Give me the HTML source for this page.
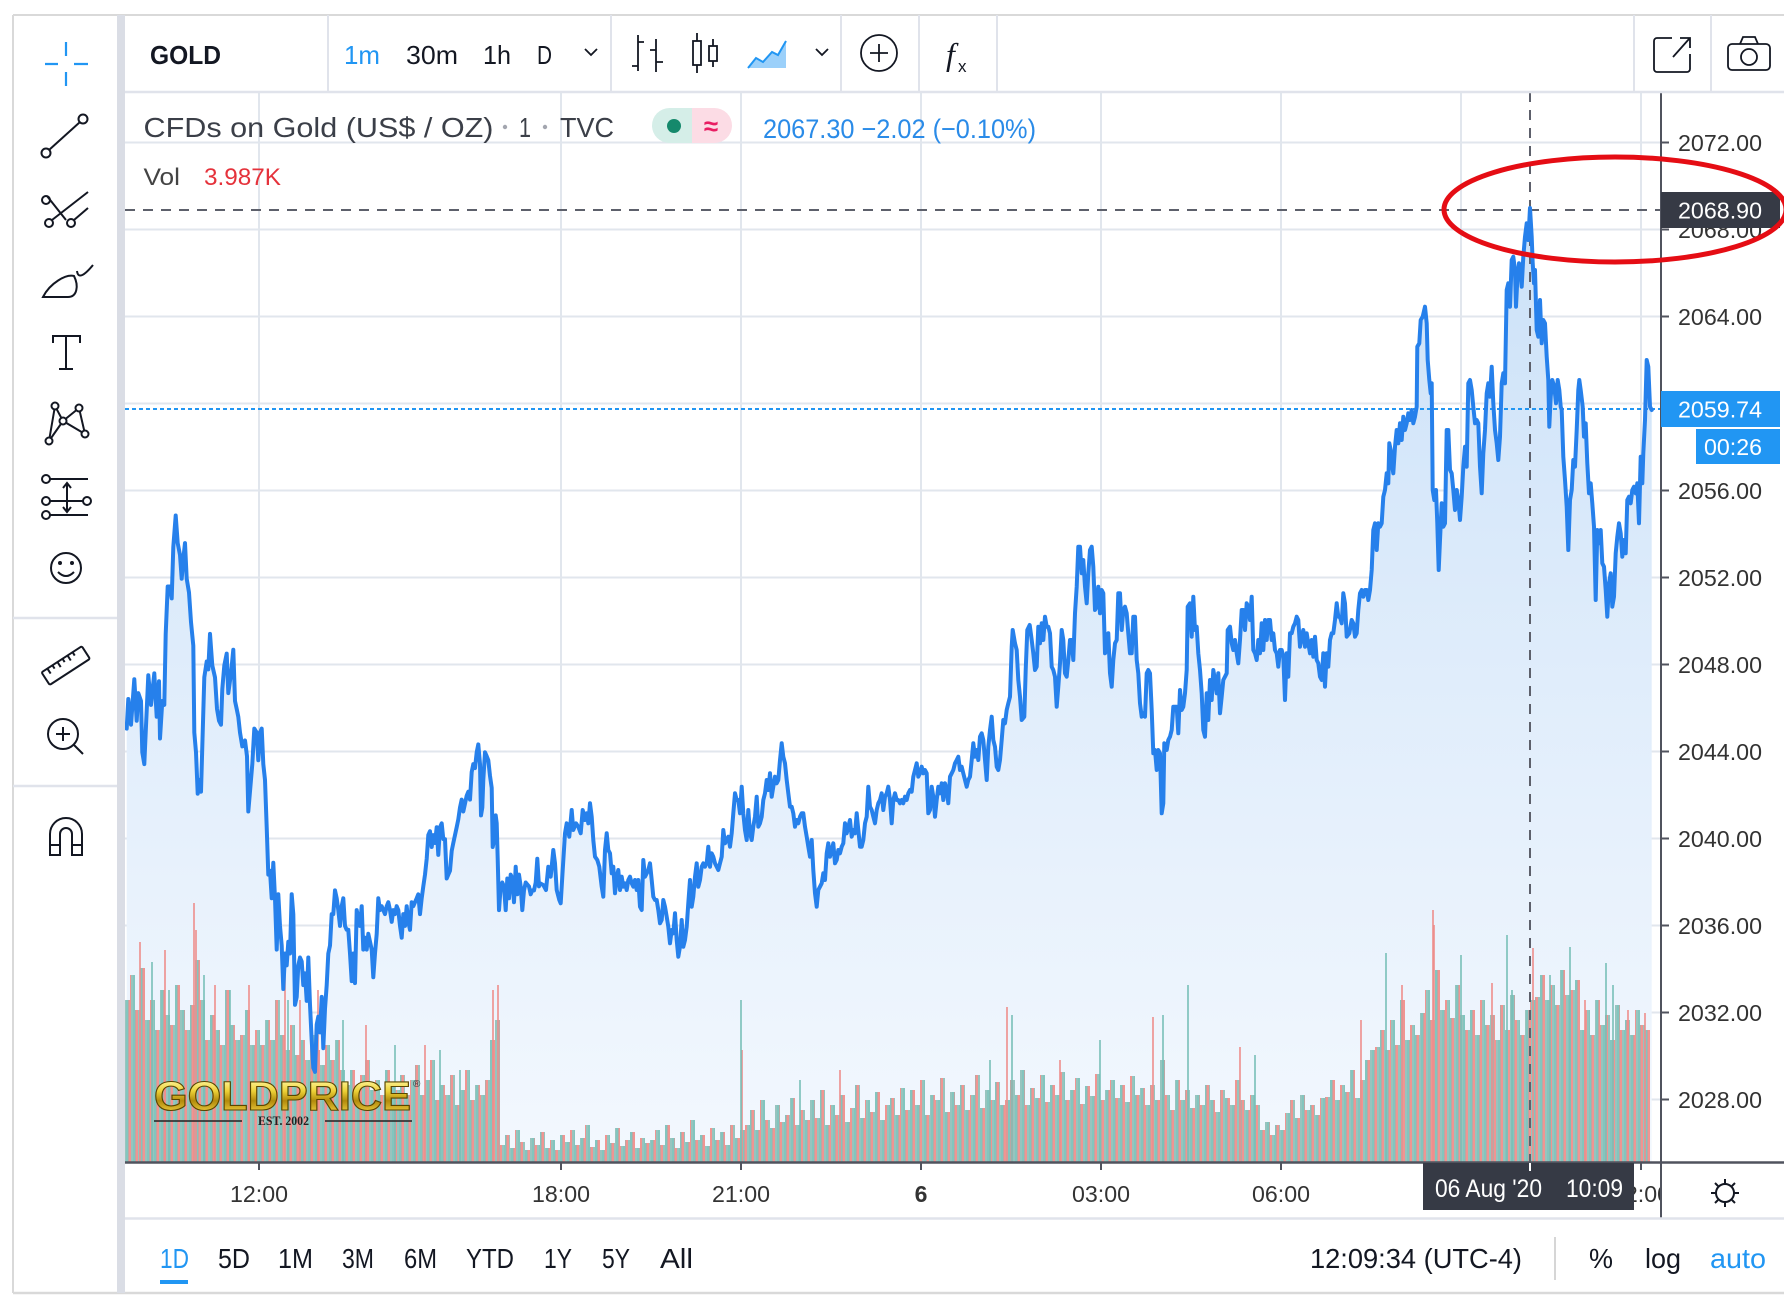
<!DOCTYPE html>
<html><head><meta charset="utf-8"><style>
html,body{margin:0;padding:0;background:#fff;}
svg{display:block;}
text{font-family:"Liberation Sans",Arial,sans-serif;}
</style></head><body>
<svg width="1784" height="1310" viewBox="0 0 1784 1310" xmlns="http://www.w3.org/2000/svg">
<defs>
<linearGradient id="ag" x1="0" y1="200" x2="0" y2="1162" gradientUnits="userSpaceOnUse">
<stop offset="0" stop-color="#cbe1f8"/><stop offset="0.5" stop-color="#e0edfb"/><stop offset="1" stop-color="#f3f8fe"/>
</linearGradient>
<linearGradient id="gold" x1="0" y1="1080" x2="0" y2="1112" gradientUnits="userSpaceOnUse">
<stop offset="0" stop-color="#fff59a"/><stop offset="0.35" stop-color="#ecd036"/><stop offset="0.65" stop-color="#b28a0c"/><stop offset="1" stop-color="#e9c93a"/>
</linearGradient>
<pattern id="vp" width="7" height="10" patternUnits="userSpaceOnUse">
<rect x="0" y="0" width="2" height="10" fill="#7ec3bb"/>
<rect x="2" y="0" width="1" height="10" fill="#b9a3a0"/>
<rect x="3" y="0" width="2" height="10" fill="#f0908d"/>
<rect x="5" y="0" width="2" height="10" fill="#93c2bb"/>
</pattern>
<clipPath id="cc"><rect x="125" y="92" width="1536" height="1070"/></clipPath>
<clipPath id="tc"><rect x="125" y="1164" width="1535" height="54"/></clipPath>
</defs>

<rect x="0" y="0" width="1784" height="1310" fill="#fff"/>

<!-- grid -->
<g stroke="#e1e6ed" stroke-width="2" clip-path="url(#cc)">
<path d="M125,142.5H1661M125,229.5H1661M125,316.5H1661M125,403.5H1661M125,490.5H1661M125,577.5H1661M125,664.5H1661M125,751.5H1661M125,838.5H1661M125,925.5H1661M125,1012.5H1661M125,1099.5H1661"/>
<path d="M259,92V1162M561,92V1162M741,92V1162M921,92V1162M1101,92V1162M1281,92V1162M1461,92V1162M1641,92V1162"/>
</g>

<g clip-path="url(#cc)">
<!-- area fill -->
<path fill="url(#ag)" d="M126.7,728.6 128.3,699 131,724.7 134.3,679.3 136.7,720.7 138.3,693.1 141,701 142.3,752.3 144.3,764.1 145.7,732.5 148.3,675.3 151,704.9 154.3,673.4 156.7,716.8 159,681.2 160,738.5 162.3,701 164.3,704.9 165.7,633.9 167.7,586.5 170,586.5 171.7,598.4 173.3,547.1 175.7,515.5 177.7,543.1 180,555 181.7,578.7 183.3,558.9 185,543.1 186.7,578.7 189,592.5 191,622.1 193.3,645.7 194.3,732.5 196,752.3 197.7,793.7 199,779.9 201,791.7 202.7,732.5 204.3,677.3 206.7,661.5 208.3,669.4 210,633.9 212.3,665.5 215,677.3 217,708.9 219,720.7 221,724.7 222.3,689.1 224.3,665.5 226.7,653.6 228.3,693.1 231,673.4 233.3,649.7 235,701 236.7,708.9 238.3,716.8 240,732.5 242.3,746.4 245,740.4 247,756.2 248.3,811.5 250.3,787.8 252.3,764.1 254.3,728.6 256.7,732.5 258.3,760.2 260,732.5 261.7,728.6 263.3,764.1 265,779.9 266.7,827.2 268.3,874.6 270,870.7 271.7,898.3 273.3,862.8 275,898.3 276.7,949.6 278.3,894.3 280,925.9 281.7,945.6 283.3,989 285,953.5 286.7,965.4 288.3,941.7 290,953.5 291.7,894.3 293.3,914.1 295,1004.8 296.7,996.9 298.3,965.4 300,957.5 301.7,961.4 303.3,985.1 305,973.3 306.7,1000.9 308.3,957.5 310,1004.8 311.7,1040.3 313.3,1067.9 315,1071.9 316.7,1024.5 318.3,1016.7 320,1032.4 321.7,996.9 323.3,1048.2 325,1008.8 326.7,985.1 328.3,953.5 330,945.6 331.7,914.1 333.3,914.1 335,890.4 336.7,898.3 338.3,910.1 340,925.9 341.7,906.2 343.3,898.3 345,925.9 346.7,929.8 348.3,929.8 350,953.5 351.7,981.1 353.3,953.5 355,983.1 356.7,910.1 358.3,918 360,925.9 361.7,906.2 363.3,949.6 365,937.7 366.7,949.6 368.3,933.8 370,941.7 371.7,949.6 373.3,977.2 375,953.5 376.7,933.8 378.3,898.3 380,910.1 381.7,906.2 383.3,910.1 385,914.1 386.7,906.2 388.3,902.2 390,910.1 391.7,921.9 393.3,910.1 395,914.1 396.7,906.2 398.3,910.1 400,925.9 401.7,937.7 403.3,914.1 405,925.9 406.7,906.2 408.3,921.9 410,929.8 411.7,902.2 413.3,906.2 415,902.2 416.7,898.3 418.3,894.3 420,914.1 421.7,898.3 423.3,886.4 425,874.6 426.7,858.8 428.3,835.1 430,831.2 431.7,847 433.3,835.1 435,843 436.7,827.2 438.3,854.9 440,827.2 441.7,823.3 443.3,839.1 445,839.1 446.7,878.5 448.3,874.6 450,870.7 451.7,850.9 453.3,843 455,835.1 456.7,827.2 458.3,819.4 460,807.5 461.7,799.6 463.3,811.5 465,803.6 466.7,795.7 468.3,791.7 470,799.6 471.7,772 473.3,764.1 475,768.1 476.7,752.3 478.3,744.4 480,764.1 481,815.4 482.3,807.5 483.3,779.9 485,752.3 486.7,756.2 488.3,760.2 490,775.9 491.7,787.8 492.7,847 494.3,839.1 495.7,815.4 496.7,823.3 497.7,858.8 499,910.1 500.7,886.4 502.3,882.5 504,886.4 505.7,910.1 507.3,878.5 509,898.3 510.7,874.6 512.3,878.5 514,902.2 515.7,866.7 517.3,894.3 519,874.6 520.7,886.4 522.3,910.1 524,890.4 525.7,882.5 527.3,884.5 529,886.4 530.7,894.3 532.3,890.4 534,890.4 535.7,882.5 537.3,858.8 539,886.4 540,883.3 543.3,885 546,890 548.3,866.7 550.7,876.7 553.3,850 555,863.3 556.7,890 559.3,900 560.7,903.3 562.7,870 565,833.3 566.7,823.3 569.3,836.7 571.7,810 573.3,830 576,823.3 578.3,826.7 580.7,833.3 582.7,810 585,820 586.7,813.3 588.3,823.3 590,803.3 591.7,816.7 593.3,840 595,856.7 597.3,860 599.3,866.7 601.7,886.7 603.3,896.7 605,850 606.7,833.3 608.3,850 610,853.3 611.7,873.3 613.3,866.7 615,893.3 616.7,876.7 618.3,870 620,890 621.7,876.7 623.3,886.7 625,883.3 626.7,890 628.3,880 630,876.7 631.7,883.3 633.3,886.7 635,880 636.7,890 638.3,880 640,906.7 641.7,910 643.3,860 645,876.7 646.7,873.3 648.3,870 650,863.3 651.7,880 653.3,896.7 655,900 656.7,900 658.3,910 660,923.3 661.7,920 663.3,900 665,906.7 666.7,916.7 668.3,926.7 670,943.3 671.7,930 673.3,933.3 675,913.3 676.7,940 678.3,956.7 680,946.7 681.7,920 683.3,946.7 685,940 686.7,926.7 688.3,903.3 690,880 691.7,906.7 693.3,896.7 695,876.7 696.7,863.3 698.3,886.7 700,880 701.7,866.7 703.3,863.3 705,866.7 706.7,863.3 708.3,846.7 710,866.7 711.7,853.3 713.3,856.7 715,863.3 716.7,866.7 718.3,870 720,863.3 721.7,856.7 723.3,830 725,843.3 726.7,840 728.3,836.7 730,846.7 731.7,833.3 733.3,813.3 735,793.3 736.7,800 738.3,800 740,813.3 741.7,786.7 743.3,813.3 745,830 746.7,840 748.3,810 750,833.3 751.7,840 753.3,826.7 755,816.7 756.7,796.7 758.3,826.7 760,823.3 761.7,816.7 763.3,800 765,793.3 766.7,780 768.3,790 770,773.3 771.7,796.7 773.3,786.7 775,776.7 776.7,783.3 778.3,780 780,760 781.7,743.3 783.3,756.7 785,763.3 786.7,780 788.3,793.3 790,806.7 791.7,806.7 793.3,813.3 795,826.7 796.7,820 798.3,823.3 800,816.7 801.7,813.3 803.3,813.3 805,826.7 806.7,836.7 808.3,846.7 810,856.7 811.7,840 813.3,870 815,893.3 816.7,906.7 818.3,890 820,886.7 821.7,883.3 823.3,873.3 825,880 826.7,853.3 828.3,843.3 830,856.7 831.7,850 833.3,843.3 835,863.3 836.7,860 838.3,850 840,853.3 841.7,846.7 843.3,843.3 845,823.3 846.7,833.3 848.3,826.7 850,820 851.7,836.7 853.3,830 855,833.3 856.7,813.3 858.3,830 860,846.7 861.7,846.7 863.3,840 865,823.3 866.7,816.7 868.3,786.7 870,806.7 871.7,810 873.3,816.7 875,823.3 876.7,810 878.3,803.3 880,800 881.7,793.3 883.3,810 885,796.7 886.7,793.3 888.3,786.7 890,800 891.7,823.3 893.3,800 895,793.3 896.7,800 898.3,800 900,803.3 901.7,800 903.3,803.3 905,796.7 906.7,800 908.3,793.3 910,790 911.7,791.7 913.3,776.7 915,770 916.7,763.3 918.3,776.7 920,773.3 921.7,766.7 923.3,773.3 925,770 926.7,773.3 928.3,813.3 930,810 931.7,786.7 933.3,796.7 935,816.7 936.7,800 938.3,786.7 940,793.3 941.7,783.3 943.3,800 945,783.3 946.7,790 948.3,803.3 950,776.7 951.7,773.3 953.3,770 955,763.3 956.7,760 958.3,756.7 960,770 961.7,766.7 963.3,773.3 965,780 966.7,786.7 968.3,780 970,776.7 971.7,760 973.3,743.3 975,756.7 976.7,750 978.3,760 980,736.7 981.7,733.3 983.3,740 985,760 986.7,780 988.3,746.7 990,730 991.7,716.7 993.3,740 995,746.7 996.7,766.7 998.3,770 1000,760 1001.7,740 1003.3,720 1005,723.3 1006.7,710 1008.3,703.3 1010,696.7 1011.7,646.7 1012.7,630 1015,643.3 1016.7,650 1018.3,680 1020,696.7 1021.7,720 1024.3,716.7 1025.7,670 1027.3,630 1029.7,625 1031.7,640 1033.3,653.3 1035,670 1036.7,666.7 1038.3,626.7 1040,643.3 1041.7,623.3 1043.3,640 1045,616.7 1046.7,626.7 1048.3,626.7 1050,633.3 1051.7,666.7 1053.3,670 1055,676.7 1056.7,706.7 1058.3,686.7 1060,663.3 1061.7,630 1063.3,640 1065,673.3 1066.7,676.7 1068.3,660 1070,640 1071.7,640 1073.3,660 1075,613.3 1076.7,586.7 1078.3,546.7 1080,546.7 1081.7,573.3 1083.3,560 1085,586.7 1086.7,603.3 1088.3,573.3 1090,550 1091.7,546.7 1093.3,566.7 1095,610 1096.7,606.7 1098.3,586.7 1100,613.3 1101.7,590 1103.3,593.3 1105,653.3 1106.7,650 1108.3,633.3 1110,673.3 1111.7,686.7 1113.3,660 1115,643.3 1116.7,640 1118.3,593.3 1120,593.3 1121.7,630 1123.3,610 1125,606.7 1126.7,613.3 1128.3,633.3 1130,653.3 1131.7,653.3 1133.3,616.7 1135,616.7 1136.7,660 1138.3,673.3 1140,703.3 1141.7,716.7 1143.3,713.3 1145,716.7 1146.7,673.3 1148.3,670 1150,673.3 1151.7,710 1153.3,753.3 1155,750 1156.7,770 1158.3,750 1160,753.3 1161.7,813.3 1163.3,803.3 1164.3,743.3 1166.7,750 1168.3,740 1170,736.7 1171.7,730 1173.3,706.7 1175,706.7 1176.7,706.7 1178.3,733.3 1180,690 1181.7,710 1183.3,706.7 1185,693.3 1186.7,670 1187.7,606.7 1190,603.3 1191.7,636.7 1193.3,596.7 1195,630 1196.7,626.7 1198.3,653.3 1200,670 1201.7,693.3 1203.3,730 1205,736.7 1206.7,693.3 1208.3,720 1210,680 1211.7,700 1213.3,670 1215,680 1216.7,693.3 1218.3,673.3 1220,713.3 1221.7,696.7 1223.3,680 1225,676.7 1226.7,673.3 1227.7,630 1230,626.7 1231.7,643.3 1233.3,650 1235,640 1236.7,653.3 1238.3,663.3 1240,640 1241.7,610 1243.3,610 1245,630 1246.7,603.3 1248.3,606.7 1250,620 1251.7,596.7 1253.3,650 1255,653.3 1256.7,660 1258.3,640 1260,653.3 1261.7,623.3 1263.3,650 1265,620 1266.7,640 1268.3,620 1270,620 1271.7,640 1273.3,633.3 1275,650 1276.7,653.3 1278.3,666.7 1280,650 1281.7,650 1283.3,656.7 1285,700 1286.7,653.3 1288.3,676.7 1290,633.3 1291.7,633.3 1293.3,626.7 1295,623.3 1296.7,616.7 1298.3,620 1300,646.7 1301.7,636.7 1303.3,630 1305,646.7 1306.7,633.3 1308.3,643.3 1310,653.3 1311.7,640 1313.3,656.7 1315,636.7 1316.7,660 1318.3,663.3 1320,676.7 1321.7,680 1323.3,653.3 1325,686.7 1326.7,653.3 1328.3,666.7 1330,640 1331.7,633.3 1333.3,633.3 1335,620 1336.7,603.3 1338.3,616.7 1340,616.7 1341.7,623.3 1343.3,593.3 1345,603.3 1346.7,636.7 1349.3,633.3 1351.7,620 1353.3,623.3 1355,636.7 1356.7,633.3 1358.3,610 1360,593.3 1361.7,590 1363.3,596.7 1365,590 1366.7,590 1368.3,600 1370,590 1371.7,570 1373.3,530 1375,523.3 1376.7,550 1378.3,523.3 1380,526.7 1381.7,523.3 1383.3,496.7 1385,490 1386.7,473.3 1388.3,483.3 1389.3,443.3 1390.7,450 1391.7,463.3 1393.3,473.3 1395,446.7 1396.7,430 1398.3,443.3 1400,423.3 1401.7,440 1403.3,416.7 1405,430 1406.7,423.3 1408.3,413.3 1410,420 1411.7,410 1413.3,423.3 1415,416.7 1416.7,406.7 1417.3,346.7 1419.3,343.3 1420.7,320 1422.7,316.7 1425,306.7 1426.7,323.3 1427.7,360 1429.3,380 1430.7,393.3 1431.7,383.3 1432.7,490 1434.3,500 1436,490 1437.3,523.3 1438.7,570 1440,540 1441.7,503.3 1443.3,526.7 1445,523.3 1446.7,430 1448.3,430 1450,470 1451.7,473.3 1453.3,490 1455,510 1456.7,490 1458.3,500 1460,520 1461.7,496.7 1463.3,466.7 1465,446.7 1466.7,466.7 1468.3,383.3 1470,380 1471.7,390 1473.3,406.7 1475,423.3 1476.7,420 1478.3,423.3 1480,466.7 1481.7,493.3 1483.3,453.3 1485,430 1486.7,393.3 1488.3,383.3 1490,396.7 1491.7,366.7 1493.3,403.3 1495,430 1496.7,443.3 1498.3,460 1500,436.7 1501.7,383.3 1503.3,373.3 1505,383.3 1506.7,290 1508.3,283.3 1510,306.7 1511.7,260 1513.3,256.7 1515,270 1516,306.7 1517.3,280 1519,263.3 1520.7,273.3 1521.7,286.7 1523.3,256.7 1525,236.7 1526.7,223.3 1528.3,240 1530,208 1531.7,236.7 1532.7,263.3 1534,283.3 1535,270 1536.7,330 1538.3,336.7 1540,300 1541.7,343.3 1543.3,320 1545,323.3 1546.7,356.7 1548.3,380 1549.3,426.7 1550.7,396.7 1552.3,380 1554.3,386.7 1556,403.3 1557.7,380 1559.3,390 1560.7,406.7 1561.7,410 1563.3,456.7 1565,480 1566.7,506.7 1568.3,550 1570,500 1571.7,490 1573.3,460 1575,466.7 1576.7,430 1578.3,390 1579.3,380 1580.7,390 1582.7,406.7 1584,436.7 1585.7,423.3 1587.3,463.3 1589,493.3 1590.7,483.3 1592.3,503.3 1594,526.7 1595.7,600 1597.3,530 1599,543.3 1600.7,530 1602.3,563.3 1604,566.7 1605.7,590 1607.3,616.7 1609,583.3 1610.7,573.3 1612.3,606.7 1614,596.7 1615.7,553.3 1617.3,536.7 1619,523.3 1620.7,533.3 1622.3,556.7 1624,540 1625.7,553.3 1627.3,500 1629,496.7 1630.7,503.3 1632.3,490 1634,486.7 1635.7,493.3 1637.3,483.3 1639,523.3 1640.7,456.7 1642.3,483.3 1643.3,453.3 1645,420 1646.7,360 1648.3,366.7 1650,406.7 1651.7,410 L1651.7,1162 L126.7,1162 Z"/>

<!-- volume -->
<g opacity="0.95">
<path fill="url(#vp)" d="M125,1162V1000H130V975H135V1010H140V968H145V1020H150V1000H155V1030H160V990H165V1015H170V1025H175V985H180V1010H185V1030H190V1005H195V960H200V1000H205V1040H210V1015H215V1030H220V1045H225V990H230V1025H235V1040H240V1035H245V1010H250V1045H255V1030H260V1045H265V1020H270V1040H275V1000H280V1035H285V1050H290V1025H295V1055H300V1040H305V1060H310V1035H315V1050H320V1065H325V1045H330V1060H335V1040H340V1070H345V1085H350V1070H355V1090H360V1075H365V1060H370V1090H375V1080H380V1095H385V1070H390V1085H395V1090H400V1075H405V1095H410V1080H415V1065H420V1095H425V1080H430V1060H435V1100H440V1085H445V1095H450V1075H455V1105H460V1090H465V1070H470V1100H475V1085H480V1095H485V1080H490V1040H495V1020H500V1145H505V1135H510V1148H515V1130H520V1142H525V1150H530V1138H535V1145H540V1132H545V1148H550V1140H555V1150H560V1135H565V1142H570V1130H575V1145H580V1138H585V1125H590V1147H595V1140H600V1150H605V1135H610V1143H615V1128H620V1146H625V1140H630V1132H635V1148H640V1138H645V1143H650V1140H655V1130H660V1145H665V1125H670V1138H675V1148H680V1132H685V1142H690V1120H695V1140H700V1135H705V1146H710V1128H715V1140H720V1132H725V1145H730V1125H735V1138H740V1130H745V1125H750V1110H755V1130H760V1100H765V1120H770V1128H775V1105H780V1122H785V1115H790V1098H795V1125H800V1110H805V1120H810V1100H815V1118H820V1090H825V1125H830V1105H835V1115H840V1095H845V1122H850V1108H855V1085H860V1118H865V1100H870V1112H875V1092H880V1120H885V1105H890V1098H895V1115H900V1088H905V1110H910V1090H915V1105H920V1080H925V1115H930V1095H935V1100H940V1078H945V1112H950V1092H955V1105H960V1085H965V1110H970V1095H975V1075H980V1108H985V1090H990V1100H995V1082H1000V1105H1005V1100H1010V1080H1015V1095H1020V1070H1025V1105H1030V1088H1035V1098H1040V1075H1045V1102H1050V1085H1055V1095H1060V1072H1065V1100H1070V1090H1075V1078H1080V1104H1085V1086H1090V1096H1095V1074H1100V1100H1105V1090H1110V1080H1115V1098H1120V1085H1125V1102H1130V1076H1135V1095H1140V1088H1145V1105H1150V1085H1155V1100H1160V1060H1165V1095H1170V1110H1175V1080H1180V1100H1185V1090H1190V1108H1195V1095H1200V1105H1205V1085H1210V1100H1215V1112H1220V1090H1225V1098H1230V1105H1235V1080H1240V1100H1245V1110H1250V1095H1255V1105H1260V1130H1265V1122H1270V1135H1275V1125H1280V1130H1285V1113H1290V1100H1295V1118H1300V1095H1305V1110H1310V1105H1315V1115H1320V1098H1325V1097H1330V1080H1335V1100H1340V1085H1345V1092H1350V1070H1355V1098H1360V1080H1365V1060H1370V1050H1375V1047H1380V1030H1385V1050H1390V1020H1395V1045H1400V1000H1405V1040H1410V1025H1415V1035H1420V1013H1425V990H1430V1020H1435V970H1440V1010H1445V1000H1450V1018H1455V985H1460V1015H1465V1030H1470V1010H1475V1035H1480V1000H1485V1025H1490V1015H1495V1040H1500V1005H1505V1030H1510V995H1515V1020H1520V1035H1525V1010H1530V1000H1535V997H1540V975H1545V1000H1550V985H1555V1005H1560V970H1565V995H1570V990H1575V980H1580V1030H1585V1010H1590V1035H1595V1000H1600V1025H1605V1015H1610V1040H1615V1005H1620V1030H1625V1020H1630V1035H1635V1010H1640V1025H1645V1030H1650V1162Z"/>
<g stroke-width="1.6">
<path stroke="#ee8986" d="M140,1162V942M165,1162V950M194,1162V903M196,1162V930M215,1162V985M249,1162V985M285,1162V975M300,1162V1000M318,1162V990M366,1162V1025M425,1162V1045M493,1162V990M498,1162V985M742,1162V1050M840,1162V1070M1007,1162V1007M1060,1162V1060M1153,1162V1017M1240,1162V1047M1361,1162V1020M1402,1162V985M1433,1162V910M1434,1162V925M1492,1162V983M1533,1162V948M1585,1162V1000M1628,1162V1010M1645,1162V1013"/>
<path stroke="#72bdb4" d="M152,1162V962M169,1162V990M204,1162V975M230,1162V990M288,1162V1000M343,1162V1020M395,1162V1045M440,1162V1050M460,1162V1070M741,1162V1000M800,1162V1080M990,1162V1060M1012,1162V1015M1100,1162V1040M1163,1162V1015M1188,1162V985M1255,1162V1055M1386,1162V953M1461,1162V955M1507,1162V935M1512,1162V990M1550,1162V975M1570,1162V947M1606,1162V963M1613,1162V985"/>
</g>
</g>

<!-- crosshair and price line markers -->
<path d="M125,409H1661" stroke="#2196f3" stroke-width="2" stroke-dasharray="4 3"/>
<path d="M125,210H1661" stroke="#5d606b" stroke-width="2" stroke-dasharray="10 8"/>
<path d="M1530,92V1162" stroke="#5d606b" stroke-width="2" stroke-dasharray="10 8"/>

<!-- price line -->
<path fill="none" stroke="#2680eb" stroke-width="4" stroke-linejoin="round" stroke-linecap="round" d="M126.7,728.6 128.3,699 131,724.7 134.3,679.3 136.7,720.7 138.3,693.1 141,701 142.3,752.3 144.3,764.1 145.7,732.5 148.3,675.3 151,704.9 154.3,673.4 156.7,716.8 159,681.2 160,738.5 162.3,701 164.3,704.9 165.7,633.9 167.7,586.5 170,586.5 171.7,598.4 173.3,547.1 175.7,515.5 177.7,543.1 180,555 181.7,578.7 183.3,558.9 185,543.1 186.7,578.7 189,592.5 191,622.1 193.3,645.7 194.3,732.5 196,752.3 197.7,793.7 199,779.9 201,791.7 202.7,732.5 204.3,677.3 206.7,661.5 208.3,669.4 210,633.9 212.3,665.5 215,677.3 217,708.9 219,720.7 221,724.7 222.3,689.1 224.3,665.5 226.7,653.6 228.3,693.1 231,673.4 233.3,649.7 235,701 236.7,708.9 238.3,716.8 240,732.5 242.3,746.4 245,740.4 247,756.2 248.3,811.5 250.3,787.8 252.3,764.1 254.3,728.6 256.7,732.5 258.3,760.2 260,732.5 261.7,728.6 263.3,764.1 265,779.9 266.7,827.2 268.3,874.6 270,870.7 271.7,898.3 273.3,862.8 275,898.3 276.7,949.6 278.3,894.3 280,925.9 281.7,945.6 283.3,989 285,953.5 286.7,965.4 288.3,941.7 290,953.5 291.7,894.3 293.3,914.1 295,1004.8 296.7,996.9 298.3,965.4 300,957.5 301.7,961.4 303.3,985.1 305,973.3 306.7,1000.9 308.3,957.5 310,1004.8 311.7,1040.3 313.3,1067.9 315,1071.9 316.7,1024.5 318.3,1016.7 320,1032.4 321.7,996.9 323.3,1048.2 325,1008.8 326.7,985.1 328.3,953.5 330,945.6 331.7,914.1 333.3,914.1 335,890.4 336.7,898.3 338.3,910.1 340,925.9 341.7,906.2 343.3,898.3 345,925.9 346.7,929.8 348.3,929.8 350,953.5 351.7,981.1 353.3,953.5 355,983.1 356.7,910.1 358.3,918 360,925.9 361.7,906.2 363.3,949.6 365,937.7 366.7,949.6 368.3,933.8 370,941.7 371.7,949.6 373.3,977.2 375,953.5 376.7,933.8 378.3,898.3 380,910.1 381.7,906.2 383.3,910.1 385,914.1 386.7,906.2 388.3,902.2 390,910.1 391.7,921.9 393.3,910.1 395,914.1 396.7,906.2 398.3,910.1 400,925.9 401.7,937.7 403.3,914.1 405,925.9 406.7,906.2 408.3,921.9 410,929.8 411.7,902.2 413.3,906.2 415,902.2 416.7,898.3 418.3,894.3 420,914.1 421.7,898.3 423.3,886.4 425,874.6 426.7,858.8 428.3,835.1 430,831.2 431.7,847 433.3,835.1 435,843 436.7,827.2 438.3,854.9 440,827.2 441.7,823.3 443.3,839.1 445,839.1 446.7,878.5 448.3,874.6 450,870.7 451.7,850.9 453.3,843 455,835.1 456.7,827.2 458.3,819.4 460,807.5 461.7,799.6 463.3,811.5 465,803.6 466.7,795.7 468.3,791.7 470,799.6 471.7,772 473.3,764.1 475,768.1 476.7,752.3 478.3,744.4 480,764.1 481,815.4 482.3,807.5 483.3,779.9 485,752.3 486.7,756.2 488.3,760.2 490,775.9 491.7,787.8 492.7,847 494.3,839.1 495.7,815.4 496.7,823.3 497.7,858.8 499,910.1 500.7,886.4 502.3,882.5 504,886.4 505.7,910.1 507.3,878.5 509,898.3 510.7,874.6 512.3,878.5 514,902.2 515.7,866.7 517.3,894.3 519,874.6 520.7,886.4 522.3,910.1 524,890.4 525.7,882.5 527.3,884.5 529,886.4 530.7,894.3 532.3,890.4 534,890.4 535.7,882.5 537.3,858.8 539,886.4 540,883.3 543.3,885 546,890 548.3,866.7 550.7,876.7 553.3,850 555,863.3 556.7,890 559.3,900 560.7,903.3 562.7,870 565,833.3 566.7,823.3 569.3,836.7 571.7,810 573.3,830 576,823.3 578.3,826.7 580.7,833.3 582.7,810 585,820 586.7,813.3 588.3,823.3 590,803.3 591.7,816.7 593.3,840 595,856.7 597.3,860 599.3,866.7 601.7,886.7 603.3,896.7 605,850 606.7,833.3 608.3,850 610,853.3 611.7,873.3 613.3,866.7 615,893.3 616.7,876.7 618.3,870 620,890 621.7,876.7 623.3,886.7 625,883.3 626.7,890 628.3,880 630,876.7 631.7,883.3 633.3,886.7 635,880 636.7,890 638.3,880 640,906.7 641.7,910 643.3,860 645,876.7 646.7,873.3 648.3,870 650,863.3 651.7,880 653.3,896.7 655,900 656.7,900 658.3,910 660,923.3 661.7,920 663.3,900 665,906.7 666.7,916.7 668.3,926.7 670,943.3 671.7,930 673.3,933.3 675,913.3 676.7,940 678.3,956.7 680,946.7 681.7,920 683.3,946.7 685,940 686.7,926.7 688.3,903.3 690,880 691.7,906.7 693.3,896.7 695,876.7 696.7,863.3 698.3,886.7 700,880 701.7,866.7 703.3,863.3 705,866.7 706.7,863.3 708.3,846.7 710,866.7 711.7,853.3 713.3,856.7 715,863.3 716.7,866.7 718.3,870 720,863.3 721.7,856.7 723.3,830 725,843.3 726.7,840 728.3,836.7 730,846.7 731.7,833.3 733.3,813.3 735,793.3 736.7,800 738.3,800 740,813.3 741.7,786.7 743.3,813.3 745,830 746.7,840 748.3,810 750,833.3 751.7,840 753.3,826.7 755,816.7 756.7,796.7 758.3,826.7 760,823.3 761.7,816.7 763.3,800 765,793.3 766.7,780 768.3,790 770,773.3 771.7,796.7 773.3,786.7 775,776.7 776.7,783.3 778.3,780 780,760 781.7,743.3 783.3,756.7 785,763.3 786.7,780 788.3,793.3 790,806.7 791.7,806.7 793.3,813.3 795,826.7 796.7,820 798.3,823.3 800,816.7 801.7,813.3 803.3,813.3 805,826.7 806.7,836.7 808.3,846.7 810,856.7 811.7,840 813.3,870 815,893.3 816.7,906.7 818.3,890 820,886.7 821.7,883.3 823.3,873.3 825,880 826.7,853.3 828.3,843.3 830,856.7 831.7,850 833.3,843.3 835,863.3 836.7,860 838.3,850 840,853.3 841.7,846.7 843.3,843.3 845,823.3 846.7,833.3 848.3,826.7 850,820 851.7,836.7 853.3,830 855,833.3 856.7,813.3 858.3,830 860,846.7 861.7,846.7 863.3,840 865,823.3 866.7,816.7 868.3,786.7 870,806.7 871.7,810 873.3,816.7 875,823.3 876.7,810 878.3,803.3 880,800 881.7,793.3 883.3,810 885,796.7 886.7,793.3 888.3,786.7 890,800 891.7,823.3 893.3,800 895,793.3 896.7,800 898.3,800 900,803.3 901.7,800 903.3,803.3 905,796.7 906.7,800 908.3,793.3 910,790 911.7,791.7 913.3,776.7 915,770 916.7,763.3 918.3,776.7 920,773.3 921.7,766.7 923.3,773.3 925,770 926.7,773.3 928.3,813.3 930,810 931.7,786.7 933.3,796.7 935,816.7 936.7,800 938.3,786.7 940,793.3 941.7,783.3 943.3,800 945,783.3 946.7,790 948.3,803.3 950,776.7 951.7,773.3 953.3,770 955,763.3 956.7,760 958.3,756.7 960,770 961.7,766.7 963.3,773.3 965,780 966.7,786.7 968.3,780 970,776.7 971.7,760 973.3,743.3 975,756.7 976.7,750 978.3,760 980,736.7 981.7,733.3 983.3,740 985,760 986.7,780 988.3,746.7 990,730 991.7,716.7 993.3,740 995,746.7 996.7,766.7 998.3,770 1000,760 1001.7,740 1003.3,720 1005,723.3 1006.7,710 1008.3,703.3 1010,696.7 1011.7,646.7 1012.7,630 1015,643.3 1016.7,650 1018.3,680 1020,696.7 1021.7,720 1024.3,716.7 1025.7,670 1027.3,630 1029.7,625 1031.7,640 1033.3,653.3 1035,670 1036.7,666.7 1038.3,626.7 1040,643.3 1041.7,623.3 1043.3,640 1045,616.7 1046.7,626.7 1048.3,626.7 1050,633.3 1051.7,666.7 1053.3,670 1055,676.7 1056.7,706.7 1058.3,686.7 1060,663.3 1061.7,630 1063.3,640 1065,673.3 1066.7,676.7 1068.3,660 1070,640 1071.7,640 1073.3,660 1075,613.3 1076.7,586.7 1078.3,546.7 1080,546.7 1081.7,573.3 1083.3,560 1085,586.7 1086.7,603.3 1088.3,573.3 1090,550 1091.7,546.7 1093.3,566.7 1095,610 1096.7,606.7 1098.3,586.7 1100,613.3 1101.7,590 1103.3,593.3 1105,653.3 1106.7,650 1108.3,633.3 1110,673.3 1111.7,686.7 1113.3,660 1115,643.3 1116.7,640 1118.3,593.3 1120,593.3 1121.7,630 1123.3,610 1125,606.7 1126.7,613.3 1128.3,633.3 1130,653.3 1131.7,653.3 1133.3,616.7 1135,616.7 1136.7,660 1138.3,673.3 1140,703.3 1141.7,716.7 1143.3,713.3 1145,716.7 1146.7,673.3 1148.3,670 1150,673.3 1151.7,710 1153.3,753.3 1155,750 1156.7,770 1158.3,750 1160,753.3 1161.7,813.3 1163.3,803.3 1164.3,743.3 1166.7,750 1168.3,740 1170,736.7 1171.7,730 1173.3,706.7 1175,706.7 1176.7,706.7 1178.3,733.3 1180,690 1181.7,710 1183.3,706.7 1185,693.3 1186.7,670 1187.7,606.7 1190,603.3 1191.7,636.7 1193.3,596.7 1195,630 1196.7,626.7 1198.3,653.3 1200,670 1201.7,693.3 1203.3,730 1205,736.7 1206.7,693.3 1208.3,720 1210,680 1211.7,700 1213.3,670 1215,680 1216.7,693.3 1218.3,673.3 1220,713.3 1221.7,696.7 1223.3,680 1225,676.7 1226.7,673.3 1227.7,630 1230,626.7 1231.7,643.3 1233.3,650 1235,640 1236.7,653.3 1238.3,663.3 1240,640 1241.7,610 1243.3,610 1245,630 1246.7,603.3 1248.3,606.7 1250,620 1251.7,596.7 1253.3,650 1255,653.3 1256.7,660 1258.3,640 1260,653.3 1261.7,623.3 1263.3,650 1265,620 1266.7,640 1268.3,620 1270,620 1271.7,640 1273.3,633.3 1275,650 1276.7,653.3 1278.3,666.7 1280,650 1281.7,650 1283.3,656.7 1285,700 1286.7,653.3 1288.3,676.7 1290,633.3 1291.7,633.3 1293.3,626.7 1295,623.3 1296.7,616.7 1298.3,620 1300,646.7 1301.7,636.7 1303.3,630 1305,646.7 1306.7,633.3 1308.3,643.3 1310,653.3 1311.7,640 1313.3,656.7 1315,636.7 1316.7,660 1318.3,663.3 1320,676.7 1321.7,680 1323.3,653.3 1325,686.7 1326.7,653.3 1328.3,666.7 1330,640 1331.7,633.3 1333.3,633.3 1335,620 1336.7,603.3 1338.3,616.7 1340,616.7 1341.7,623.3 1343.3,593.3 1345,603.3 1346.7,636.7 1349.3,633.3 1351.7,620 1353.3,623.3 1355,636.7 1356.7,633.3 1358.3,610 1360,593.3 1361.7,590 1363.3,596.7 1365,590 1366.7,590 1368.3,600 1370,590 1371.7,570 1373.3,530 1375,523.3 1376.7,550 1378.3,523.3 1380,526.7 1381.7,523.3 1383.3,496.7 1385,490 1386.7,473.3 1388.3,483.3 1389.3,443.3 1390.7,450 1391.7,463.3 1393.3,473.3 1395,446.7 1396.7,430 1398.3,443.3 1400,423.3 1401.7,440 1403.3,416.7 1405,430 1406.7,423.3 1408.3,413.3 1410,420 1411.7,410 1413.3,423.3 1415,416.7 1416.7,406.7 1417.3,346.7 1419.3,343.3 1420.7,320 1422.7,316.7 1425,306.7 1426.7,323.3 1427.7,360 1429.3,380 1430.7,393.3 1431.7,383.3 1432.7,490 1434.3,500 1436,490 1437.3,523.3 1438.7,570 1440,540 1441.7,503.3 1443.3,526.7 1445,523.3 1446.7,430 1448.3,430 1450,470 1451.7,473.3 1453.3,490 1455,510 1456.7,490 1458.3,500 1460,520 1461.7,496.7 1463.3,466.7 1465,446.7 1466.7,466.7 1468.3,383.3 1470,380 1471.7,390 1473.3,406.7 1475,423.3 1476.7,420 1478.3,423.3 1480,466.7 1481.7,493.3 1483.3,453.3 1485,430 1486.7,393.3 1488.3,383.3 1490,396.7 1491.7,366.7 1493.3,403.3 1495,430 1496.7,443.3 1498.3,460 1500,436.7 1501.7,383.3 1503.3,373.3 1505,383.3 1506.7,290 1508.3,283.3 1510,306.7 1511.7,260 1513.3,256.7 1515,270 1516,306.7 1517.3,280 1519,263.3 1520.7,273.3 1521.7,286.7 1523.3,256.7 1525,236.7 1526.7,223.3 1528.3,240 1530,208 1531.7,236.7 1532.7,263.3 1534,283.3 1535,270 1536.7,330 1538.3,336.7 1540,300 1541.7,343.3 1543.3,320 1545,323.3 1546.7,356.7 1548.3,380 1549.3,426.7 1550.7,396.7 1552.3,380 1554.3,386.7 1556,403.3 1557.7,380 1559.3,390 1560.7,406.7 1561.7,410 1563.3,456.7 1565,480 1566.7,506.7 1568.3,550 1570,500 1571.7,490 1573.3,460 1575,466.7 1576.7,430 1578.3,390 1579.3,380 1580.7,390 1582.7,406.7 1584,436.7 1585.7,423.3 1587.3,463.3 1589,493.3 1590.7,483.3 1592.3,503.3 1594,526.7 1595.7,600 1597.3,530 1599,543.3 1600.7,530 1602.3,563.3 1604,566.7 1605.7,590 1607.3,616.7 1609,583.3 1610.7,573.3 1612.3,606.7 1614,596.7 1615.7,553.3 1617.3,536.7 1619,523.3 1620.7,533.3 1622.3,556.7 1624,540 1625.7,553.3 1627.3,500 1629,496.7 1630.7,503.3 1632.3,490 1634,486.7 1635.7,493.3 1637.3,483.3 1639,523.3 1640.7,456.7 1642.3,483.3 1643.3,453.3 1645,420 1646.7,360 1648.3,366.7 1650,406.7 1651.7,410"/>
</g>

<!-- GOLDPRICE watermark -->
<g>
<text x="154" y="1110" font-size="41" font-weight="bold" fill="url(#gold)" stroke="#5a4600" stroke-width="1.1" textLength="257" lengthAdjust="spacingAndGlyphs">GOLDPRICE</text>
<text x="413" y="1087" font-size="10" fill="#333">®</text>
<path d="M154,1121H242M325,1121H412" stroke="#222" stroke-width="1.6"/>
<text x="258" y="1125" font-size="13" font-weight="bold" fill="#222" style="font-family:'Liberation Serif',serif" textLength="51" lengthAdjust="spacingAndGlyphs">EST. 2002</text>
</g>

<!-- legend -->
<text x="143.5" y="137" font-size="28" fill="#3b3f48" textLength="350" lengthAdjust="spacingAndGlyphs">CFDs on Gold (US$ / OZ)</text>
<circle cx="505" cy="127" r="2.2" fill="#a3a6af"/>
<text x="519" y="137" font-size="28" fill="#3b3f48" textLength="12" lengthAdjust="spacingAndGlyphs">1</text>
<circle cx="545" cy="127" r="2.2" fill="#a3a6af"/>
<text x="560" y="137" font-size="28" fill="#3b3f48" textLength="54" lengthAdjust="spacingAndGlyphs">TVC</text>
<path d="M669.5,108H692V143H669.5A17.5,17.5 0 0 1 669.5,108Z" fill="#d5eee8"/>
<path d="M692,108H714.5A17.5,17.5 0 0 1 714.5,143H692Z" fill="#fcdce5"/>
<circle cx="674" cy="126" r="7" fill="#15896c"/>
<text x="711" y="135" font-size="26" font-weight="bold" fill="#e91e63" text-anchor="middle">≈</text>
<text x="763" y="138" font-size="27" fill="#2a8be8" textLength="273" lengthAdjust="spacingAndGlyphs">2067.30 −2.02 (−0.10%)</text>
<text x="143.5" y="185" font-size="24" fill="#444" textLength="36.5" lengthAdjust="spacingAndGlyphs">Vol</text>
<text x="204" y="185" font-size="24" fill="#e5323b" textLength="77" lengthAdjust="spacingAndGlyphs">3.987K</text>

<!-- axes -->
<path d="M1661,92V1218" stroke="#50535e" stroke-width="2"/>
<path d="M125,1162.5H1784" stroke="#50535e" stroke-width="2.5"/>
<path d="M1661,142.5h8M1661,229.5h8M1661,316.5h8M1661,403.5h8M1661,490.5h8M1661,577.5h8M1661,664.5h8M1661,751.5h8M1661,838.5h8M1661,925.5h8M1661,1012.5h8M1661,1099.5h8" stroke="#50535e" stroke-width="2"/>
<path d="M259,1163v7M561,1163v7M741,1163v7M921,1163v7M1101,1163v7M1281,1163v7M1641,1163v7" stroke="#50535e" stroke-width="2"/>
<g font-size="23" fill="#333">
<text x="1678" y="151" textLength="84" lengthAdjust="spacingAndGlyphs">2072.00</text>
<text x="1678" y="238" textLength="84" lengthAdjust="spacingAndGlyphs">2068.00</text>
<text x="1678" y="325" textLength="84" lengthAdjust="spacingAndGlyphs">2064.00</text>
<text x="1678" y="412" textLength="84" lengthAdjust="spacingAndGlyphs">2060.00</text>
<text x="1678" y="499" textLength="84" lengthAdjust="spacingAndGlyphs">2056.00</text>
<text x="1678" y="586" textLength="84" lengthAdjust="spacingAndGlyphs">2052.00</text>
<text x="1678" y="673" textLength="84" lengthAdjust="spacingAndGlyphs">2048.00</text>
<text x="1678" y="760" textLength="84" lengthAdjust="spacingAndGlyphs">2044.00</text>
<text x="1678" y="847" textLength="84" lengthAdjust="spacingAndGlyphs">2040.00</text>
<text x="1678" y="934" textLength="84" lengthAdjust="spacingAndGlyphs">2036.00</text>
<text x="1678" y="1021" textLength="84" lengthAdjust="spacingAndGlyphs">2032.00</text>
<text x="1678" y="1108" textLength="84" lengthAdjust="spacingAndGlyphs">2028.00</text>
</g>
<rect x="1661" y="192" width="119" height="36" fill="#363a45"/>
<text x="1678" y="218.5" font-size="23" fill="#fff" textLength="84" lengthAdjust="spacingAndGlyphs">2068.90</text>
<rect x="1661" y="391" width="119" height="36" fill="#2196f3"/>
<text x="1678" y="417.5" font-size="23" fill="#fff" textLength="84" lengthAdjust="spacingAndGlyphs">2059.74</text>
<rect x="1696" y="429" width="84" height="35" fill="#2196f3"/>
<text x="1704" y="455" font-size="23" fill="#fff" textLength="58" lengthAdjust="spacingAndGlyphs">00:26</text>

<!-- time labels -->
<g font-size="23" fill="#333">
<text x="230" y="1202" textLength="58" lengthAdjust="spacingAndGlyphs">12:00</text>
<text x="532" y="1202" textLength="58" lengthAdjust="spacingAndGlyphs">18:00</text>
<text x="712" y="1202" textLength="58" lengthAdjust="spacingAndGlyphs">21:00</text>
<text x="921" y="1202" font-weight="bold" text-anchor="middle">6</text>
<text x="1072" y="1202" textLength="58" lengthAdjust="spacingAndGlyphs">03:00</text>
<text x="1252" y="1202" textLength="58" lengthAdjust="spacingAndGlyphs">06:00</text>
<text x="1612" y="1202" textLength="58" lengthAdjust="spacingAndGlyphs" clip-path="url(#tc)">12:00</text>
</g>
<rect x="1423" y="1163" width="211" height="47" fill="#363a45"/>
<path d="M1530,1163v8" stroke="#fff" stroke-width="2"/>
<text x="1435" y="1197" font-size="25" fill="#fff" textLength="107" lengthAdjust="spacingAndGlyphs">06 Aug '20</text>
<text x="1566" y="1197" font-size="25" fill="#fff" textLength="57" lengthAdjust="spacingAndGlyphs">10:09</text>
<!-- gear/sun -->
<g stroke="#131722" stroke-width="2" fill="none">
<circle cx="1725" cy="1193" r="9"/>
<path d="M1725,1179v5M1725,1202v5M1711,1193h5M1734,1193h5M1715,1183l3,3M1732,1200l3,3M1735,1183l-3,3M1718,1200l-3,3"/>
</g>

<!-- red ellipse -->
<ellipse cx="1615" cy="209.5" rx="171" ry="52.5" fill="none" stroke="#e50d14" stroke-width="5"/>

<!-- frame and toolbars -->
<path d="M13,15H1784" stroke="#d9d9d9" stroke-width="2"/>
<path d="M13,15V1293" stroke="#d9d9d9" stroke-width="2"/>
<path d="M13,1293H1784" stroke="#d9d9d9" stroke-width="2.5"/>
<rect x="117" y="15" width="8" height="1278" fill="#dadde5"/>
<path d="M125,92H1784" stroke="#e0e3eb" stroke-width="2.5"/>
<path d="M125,1218.5H1784" stroke="#e0e3eb" stroke-width="2.5"/>
<path d="M328,15V92M611,15V92M841,15V92M919,15V92M997,15V92M1634,15V92M1711,15V92" stroke="#e0e3eb" stroke-width="2"/>
<path d="M13,618H117M13,786H117" stroke="#e0e3eb" stroke-width="2.5"/>

<!-- top toolbar -->
<text x="150" y="64" font-size="26" font-weight="bold" fill="#131722" textLength="71" lengthAdjust="spacingAndGlyphs">GOLD</text>
<text x="344" y="64" font-size="26" fill="#2196f3" textLength="36" lengthAdjust="spacingAndGlyphs">1m</text>
<text x="406" y="64" font-size="26" fill="#131722" textLength="52" lengthAdjust="spacingAndGlyphs">30m</text>
<text x="483" y="64" font-size="26" fill="#131722" textLength="28" lengthAdjust="spacingAndGlyphs">1h</text>
<text x="537" y="64" font-size="26" fill="#131722" textLength="15" lengthAdjust="spacingAndGlyphs">D</text>
<g stroke="#131722" stroke-width="1.8" fill="none">
<path d="M585,49l6,6l6,-6M816,49l6,6l6,-6"/>
<path d="M638,35V71M632,66h6M638,42h6M656,39V72M650,50h6M656,62h7"/>
<path d="M697,33V73M713,39V67"/>
<rect x="693" y="41" width="8" height="24" fill="#fff"/>
<rect x="709" y="46" width="8" height="15" fill="#fff"/>
<circle cx="879" cy="53" r="18"/>
<path d="M870,53h18M879,44v18"/>
<path d="M1672,38H1657a3,3 0 0 0 -3,3V69a3,3 0 0 0 3,3H1687a3,3 0 0 0 3,-3V54M1673,57L1689,39M1680,38H1690V48"/>
<rect x="1728" y="44" width="42" height="26" rx="4"/>
<path d="M1740,44l3,-7h12l3,7"/>
<circle cx="1749" cy="57" r="8"/>
</g>
<path d="M748,68L756,58L763,62L772,52L778,55L786,41V68Z" fill="#2196f3" fill-opacity="0.45"/>
<path d="M748,68L756,58L763,62L772,52L778,55L786,41" fill="none" stroke="#2196f3" stroke-width="2"/>
<text x="946" y="65" font-size="32" font-style="italic" fill="#131722" style="font-family:'Liberation Serif',serif">f</text>
<text x="958" y="72" font-size="17" fill="#131722">x</text>

<!-- left toolbar icons -->
<path d="M45,64H58M74,64H88M66,42V56M66,72V86" stroke="#2196f3" stroke-width="2.2"/>
<g stroke="#131722" stroke-width="2" fill="none">
<path d="M49,150L80,122"/>
<circle cx="46" cy="153" r="4.5"/><circle cx="83" cy="119" r="4.5"/>
<path d="M52,220L88,192M74,220L88,208M47,196L66,220"/>
<circle cx="49" cy="223" r="4"/><circle cx="71" cy="223" r="4"/><circle cx="46" cy="200" r="4"/>
<path d="M43,297H68C77,297 79,286 74,276C66,274 50,283 43,297Z"/>
<path d="M77,271C78,279 84,276 93,265"/>
<path d="M53,343V336H80V343M66,336V369M59,369H73"/>
<path d="M49,441L55,406L63,421L79,408L85,434M49,441L63,421L85,434"/>
<circle cx="49" cy="441" r="3.5" fill="#fff"/><circle cx="55" cy="406" r="3.5" fill="#fff"/><circle cx="63" cy="421" r="3.5" fill="#fff"/><circle cx="79" cy="408" r="3.5" fill="#fff"/><circle cx="85" cy="434" r="3.5" fill="#fff"/>
<path d="M50,479H88M50,501H83M50,515H88M67,484V511M63,488l4,-5l4,5M63,507l4,5l4,-5"/>
<circle cx="46" cy="479" r="4"/><circle cx="46" cy="501" r="4"/><circle cx="87" cy="501" r="4"/><circle cx="46" cy="515" r="4"/>
<circle cx="66" cy="568" r="15"/>
<path d="M58,572Q66,580 74,572"/>
<g transform="rotate(-33 66 666)"><rect x="42" y="658" width="48" height="15" rx="1.5"/><path d="M49,658v6M55,658v4M61,658v6M67,658v4M73,658v6M79,658v4"/></g>
<circle cx="63" cy="734" r="15"/>
<path d="M74,745L83,754M56,734H70M63,727V741"/>
<path d="M50,855V834A16,16 0 0 1 82,834V855H72V834A6,6 0 0 0 60,834V855ZM50,845H60M72,845H82"/>
</g>
<circle cx="60" cy="563" r="2" fill="#131722"/><circle cx="72" cy="563" r="2" fill="#131722"/>

<!-- bottom bar -->
<g font-size="28" fill="#131722">
<text x="160" y="1268" fill="#2196f3" textLength="29" lengthAdjust="spacingAndGlyphs">1D</text>
<text x="218" y="1268" textLength="32" lengthAdjust="spacingAndGlyphs">5D</text>
<text x="278" y="1268" textLength="35" lengthAdjust="spacingAndGlyphs">1M</text>
<text x="342" y="1268" textLength="32" lengthAdjust="spacingAndGlyphs">3M</text>
<text x="404" y="1268" textLength="33" lengthAdjust="spacingAndGlyphs">6M</text>
<text x="466" y="1268" textLength="48" lengthAdjust="spacingAndGlyphs">YTD</text>
<text x="544" y="1268" textLength="28" lengthAdjust="spacingAndGlyphs">1Y</text>
<text x="602" y="1268" textLength="28" lengthAdjust="spacingAndGlyphs">5Y</text>
<text x="660" y="1268" textLength="33" lengthAdjust="spacingAndGlyphs">All</text>
<text x="1310" y="1268" textLength="212" lengthAdjust="spacingAndGlyphs">12:09:34 (UTC-4)</text>
<text x="1589" y="1268" textLength="24" lengthAdjust="spacingAndGlyphs">%</text>
<text x="1645" y="1268" textLength="36" lengthAdjust="spacingAndGlyphs">log</text>
<text x="1710" y="1268" fill="#2196f3" textLength="56" lengthAdjust="spacingAndGlyphs">auto</text>
</g>
<rect x="160" y="1280" width="28" height="4" fill="#2196f3"/>
<path d="M1555,1237V1280" stroke="#d6d6d6" stroke-width="2"/>
</svg>
</body></html>
